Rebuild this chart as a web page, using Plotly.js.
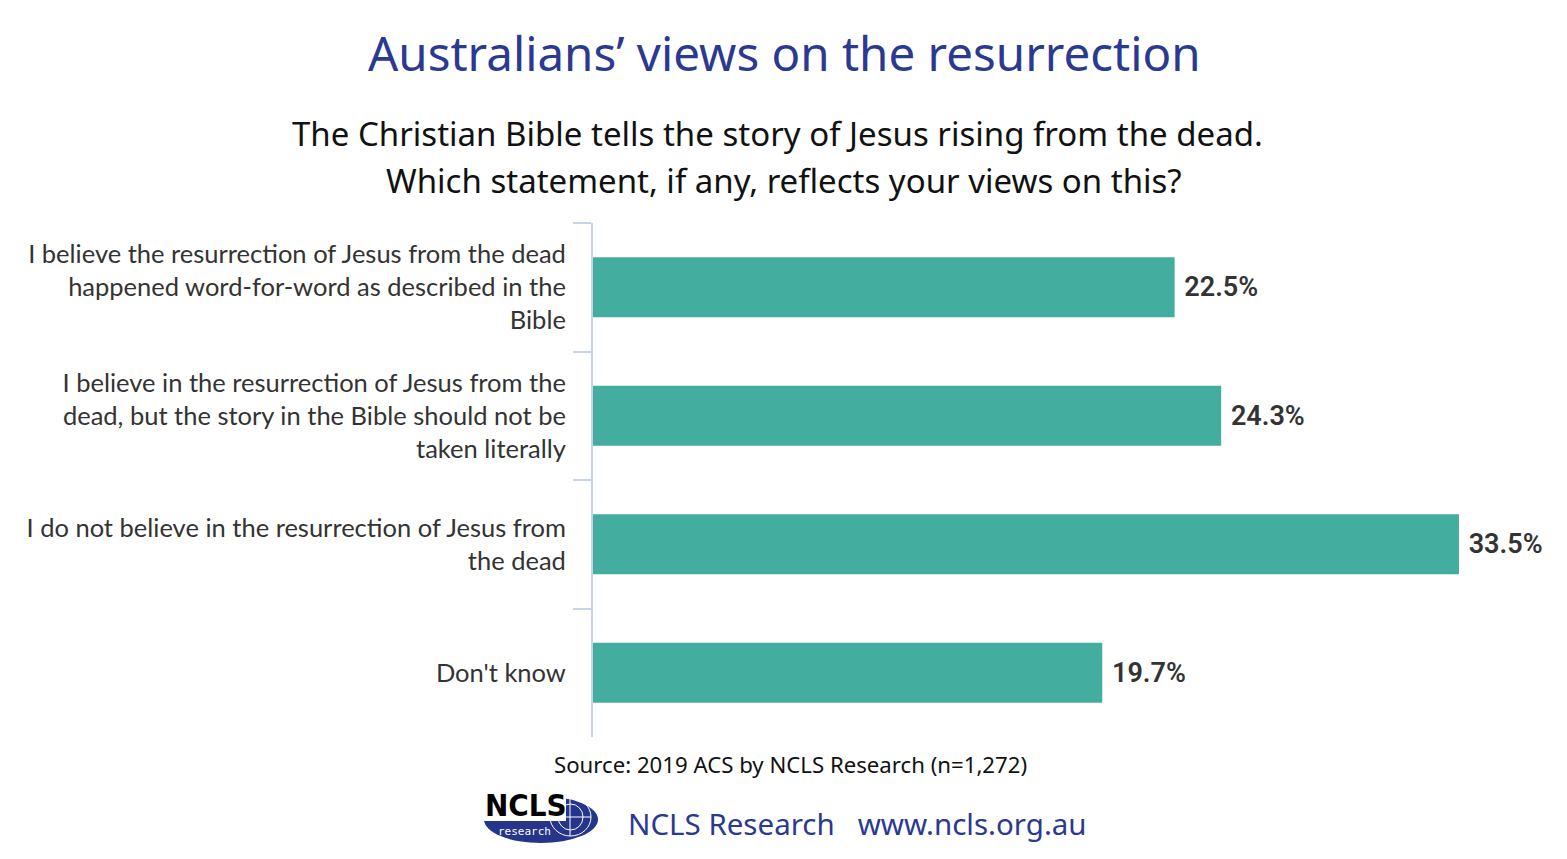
<!DOCTYPE html>
<html>
<head>
<meta charset="utf-8">
<script src="https://cdn.plot.ly/plotly-3.0.1.min.js"></script>
<style>html,body{margin:0;padding:0;background:#fff;}#chart{width:1567px;height:859px;}</style>
</head>
<body>
<div id="chart"></div>
<script>
// ---- data ----
const categories = [
  "I believe the resurrection of Jesus from the dead<br>happened word-for-word as described in the<br>Bible",
  "I believe in the resurrection of Jesus from the<br>dead, but the story in the Bible should not be<br>taken literally",
  "I do not believe in the resurrection of Jesus from<br>the dead",
  "Don't know"
];
const values = [22.5, 24.3, 33.5, 19.7];
const titleText = "Australians’ views on the resurrection";
const subtitleLines = ["The Christian Bible tells the story of Jesus rising from the dead.", "Which statement, if any, reflects your views on this?"];
const sourceText = "Source: 2019 ACS by NCLS Research (n=1,272)";
const footerText = "NCLS Research&nbsp;&nbsp;&nbsp;www.ncls.org.au";

// ---- layout helpers (pixel -> paper) ----
const W = 1567, H = 859, ML = 593, MR = 0, MT = 223, MB = 122;
const PW = W - ML - MR, PH = H - MT - MB;
const px = x => (x - ML) / PW;
const py = y => (H - MB - y) / PH;

const trace = {
  type: 'bar',
  orientation: 'h',
  y: categories,
  x: values,
  marker: {color: '#43AEA0'},
  texttemplate: '&nbsp;%{x:.1f}%',
  textposition: 'outside',
  textfont: {family: 'Roboto, sans-serif', size: 27, color: '#333333', weight: 600},
  cliponaxis: false,
  hoverinfo: 'skip'
};

const blue = '#2B3990';
const annotations = [
  {text: titleText, x: px(784), y: py(52), xref: 'paper', yref: 'paper', showarrow: false,
   xanchor: 'center', yanchor: 'middle', font: {family: 'Noto Sans, sans-serif', size: 47.5, color: blue}},
  {text: subtitleLines[0], x: px(777), y: py(134), xref: 'paper', yref: 'paper', showarrow: false,
   xanchor: 'center', yanchor: 'middle', font: {family: 'Noto Sans, sans-serif', size: 33, color: '#111'}},
  {text: subtitleLines[1], x: px(784), y: py(180), xref: 'paper', yref: 'paper', showarrow: false,
   xanchor: 'center', yanchor: 'middle', font: {family: 'Noto Sans, sans-serif', size: 33, color: '#111'}},
  {text: sourceText, x: px(790), y: py(764), xref: 'paper', yref: 'paper', showarrow: false,
   xanchor: 'center', yanchor: 'middle', font: {family: 'Noto Sans, sans-serif', size: 22.2, color: '#111'}},
  {text: footerText, x: px(626), y: py(823), xref: 'paper', yref: 'paper', showarrow: false,
   xanchor: 'left', yanchor: 'middle', font: {family: 'Noto Sans, sans-serif', size: 29.5, color: blue}},
  {text: '<b>NCLS</b>', x: px(526), y: py(805), xref: 'paper', yref: 'paper', showarrow: false,
   xanchor: 'center', yanchor: 'middle', borderpad: 0,
   font: {family: 'DejaVu Sans Condensed, Liberation Sans Narrow, sans-serif', size: 31, color: '#000'}},
  {text: 'research', x: px(524), y: py(831), xref: 'paper', yref: 'paper', showarrow: false,
   xanchor: 'center', yanchor: 'middle', font: {family: 'DejaVu Sans Mono, monospace', size: 11, color: '#fff'}}
];

const shapes = [
  {type: 'circle', xref: 'paper', yref: 'paper', x0: px(484), x1: px(598), y0: py(843), y1: py(796),
   fillcolor: '#25358C', line: {width: 0}, layer: 'above'},
  {type: 'circle', xref: 'paper', yref: 'paper', x0: px(550), x1: px(591), y0: py(836), y1: py(798),
   fillcolor: 'rgba(0,0,0,0)', line: {width: 1, color: '#ffffff'}, layer: 'above'},
  {type: 'circle', xref: 'paper', yref: 'paper', x0: px(558), x1: px(583), y0: py(830), y1: py(804),
   fillcolor: 'rgba(0,0,0,0)', line: {width: 1, color: '#ffffff'}, layer: 'above'},
  {type: 'line', xref: 'paper', yref: 'paper', x0: px(551), x1: px(591), y0: py(817), y1: py(817),
   line: {width: 1, color: '#ffffff'}, layer: 'above'},
  {type: 'line', xref: 'paper', yref: 'paper', x0: px(570), x1: px(570), y0: py(798), y1: py(836),
   line: {width: 1, color: '#ffffff'}, layer: 'above'},
  {type: 'rect', xref: 'paper', yref: 'paper', x0: px(482), x1: px(566), y0: py(821), y1: py(786),
   fillcolor: '#ffffff', line: {width: 0}, layer: 'above'}
];

const layout = {
  width: W, height: H,
  margin: {l: ML, r: MR, t: MT, b: MB, pad: 0},
  paper_bgcolor: '#ffffff', plot_bgcolor: '#ffffff',
  showlegend: false,
  bargap: 0.533,
  xaxis: {range: [0, PW / 25.85], showgrid: false, zeroline: false, showticklabels: false, showline: false, fixedrange: true},
  yaxis: {
    autorange: 'reversed', type: 'category',
    showline: true, linecolor: '#C9D3E8', linewidth: 2,
    ticks: 'outside', tickson: 'boundaries', ticklen: 18, tickcolor: '#C9D3E8', tickwidth: 2,
    ticklabelstandoff: 20,
    tickfont: {family: 'Lato, sans-serif', size: 25.5, color: '#333333'},
    showgrid: false, zeroline: false, automargin: false
  },
  annotations: annotations,
  shapes: shapes
};

Plotly.newPlot('chart', [trace], layout, {displayModeBar: false, staticPlot: true});
</script>
</body>
</html>
